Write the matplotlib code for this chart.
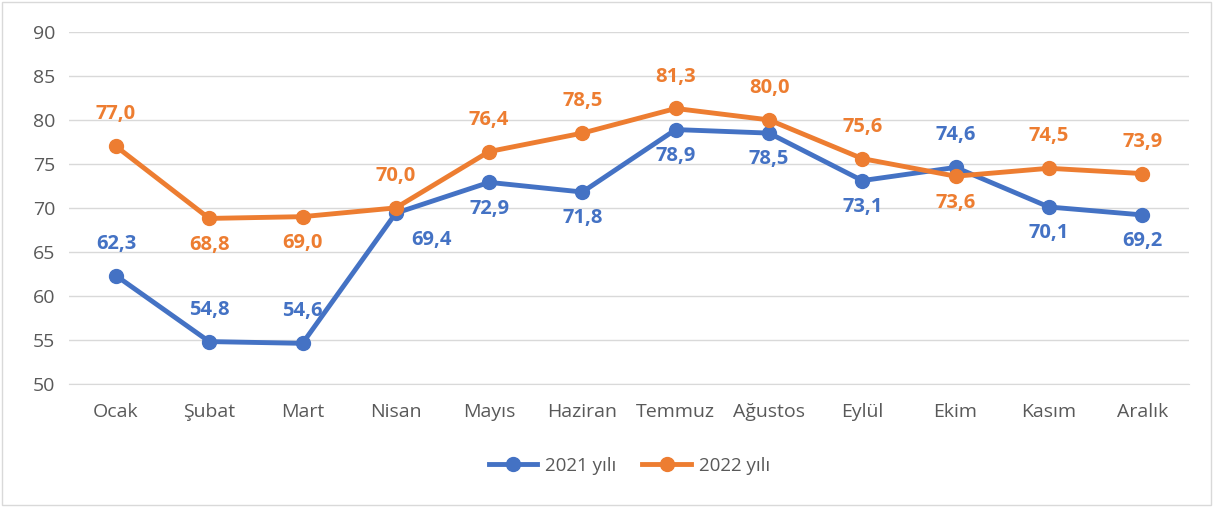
import matplotlib.pyplot as plt
from matplotlib.patches import Rectangle

plt.rcParams['font.family'] = ['Open Sans', 'DejaVu Sans']

months = ["Ocak", "Şubat", "Mart", "Nisan", "Mayıs", "Haziran", "Temmuz",
          "Ağustos", "Eylül", "Ekim", "Kasım", "Aralık"]
y2021 = [62.3, 54.8, 54.6, 69.4, 72.9, 71.8, 78.9, 78.5, 73.1, 74.6, 70.1, 69.2]
y2022 = [77.0, 68.8, 69.0, 70.0, 76.4, 78.5, 81.3, 80.0, 75.6, 73.6, 74.5, 73.9]
# label placement: +1 above, -1 below, 'r' right-below
pos2021 = [1, 1, 1, 'r', -1, -1, -1, -1, -1, 1, -1, -1]
pos2022 = [1, -1, -1, 1, 1, 1, 1, 1, 1, -1, 1, 1]

blue = "#4472C4"
orange = "#ED7D31"

fig = plt.figure(figsize=(12.15, 5.07), dpi=100)
ax = fig.add_axes([0.057, 0.243, 0.9215, 0.694])

x = list(range(len(months)))
ax.plot(x, y2021, color=blue, lw=3.5, marker='o', ms=10, label="2021 yılı", zorder=3)
ax.plot(x, y2022, color=orange, lw=3.5, marker='o', ms=10, label="2022 yılı", zorder=3)


def fmt(v):
    return f"{v:.1f}".replace(".", ",")


def annotate(vals, places, color):
    for i, (v, p) in enumerate(zip(vals, places)):
        if p == 'r':
            off = (26, -19)
        elif p == 1:
            off = (0, 23)
        else:
            off = (0, -19)
        ax.annotate(fmt(v), (i, v), xytext=off, textcoords='offset points',
                    ha='center', va='center', color=color, fontsize=14.5,
                    fontweight='bold')


annotate(y2021, pos2021, blue)
annotate(y2022, pos2022, orange)

ax.set_xlim(-0.5, 11.5)
ax.set_ylim(50, 90)
ax.set_yticks(range(50, 91, 5))
ax.set_xticks(x)
ax.set_xticklabels(months)
ax.grid(axis='y', color='#D9D9D9', lw=1)
ax.set_axisbelow(True)
for s in ['top', 'right', 'left']:
    ax.spines[s].set_visible(False)
ax.spines['bottom'].set_color('#D9D9D9')
ax.tick_params(length=0, colors='#595959', labelsize=14)
ax.tick_params(axis='x', pad=14)
ax.tick_params(axis='y', pad=10)

ax.legend(loc='center', bbox_to_anchor=(0.5, -0.233), ncol=2, frameon=False,
          fontsize=13.5, labelcolor='#595959', handlelength=2.6, handletextpad=0.4,
          columnspacing=1.4)

fig.patches.append(Rectangle((0.002, 0.003), 0.995, 0.993, transform=fig.transFigure,
                             fill=False, edgecolor='#D9D9D9', lw=1))

fig.savefig("out.png", dpi=100)
